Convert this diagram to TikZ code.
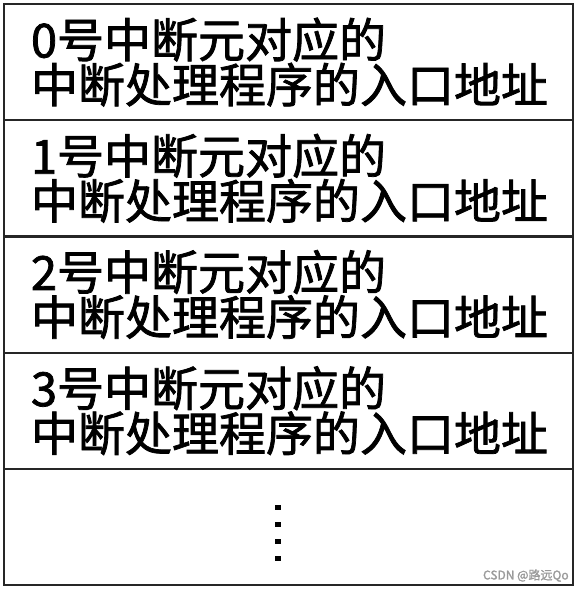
\documentclass[tikz,border=0pt]{standalone}
\usepackage{fontspec}
\newfontfamily\cjk{Noto Sans CJK SC}[FakeBold=1.6]
\usetikzlibrary{positioning}

\begin{document}
\begin{tikzpicture}[x=1pt,y=1pt]
\tikzstyle{every node}+=[outer sep=0pt]
\tikzstyle{cell}=[draw=black!85, line width=2.2pt, anchor=north west,
  minimum width=569pt, minimum height=116.2pt, inner xsep=27pt,
  text width=515pt, align=left, font=\cjk\fontsize{47}{45}\selectfont]
\useasboundingbox (0,0) rectangle (579,-591);
\node [cell] (r0) at (4,-4) {0号中断元对应的\\中断处理程序的入口地址};
\node [cell, below=0pt of r0] (r1) {1号中断元对应的\\中断处理程序的入口地址};
\node [cell, below=0pt of r1] (r2) {2号中断元对应的\\中断处理程序的入口地址};
\node [cell, below=0pt of r2] (r3) {3号中断元对应的\\中断处理程序的入口地址};
\node [cell, below=0pt of r3] (r4) {};
% vertical dots
\foreach \k in {0,...,3}
  \fill [black] (275,-505-17*\k) rectangle ++(6,-5);
\node [text=black!40, font=\cjk\fontsize{12}{12}\selectfont, anchor=south east] (wm) at (572,-585) {CSDN @路远Qo};
\end{tikzpicture}
\end{document}
